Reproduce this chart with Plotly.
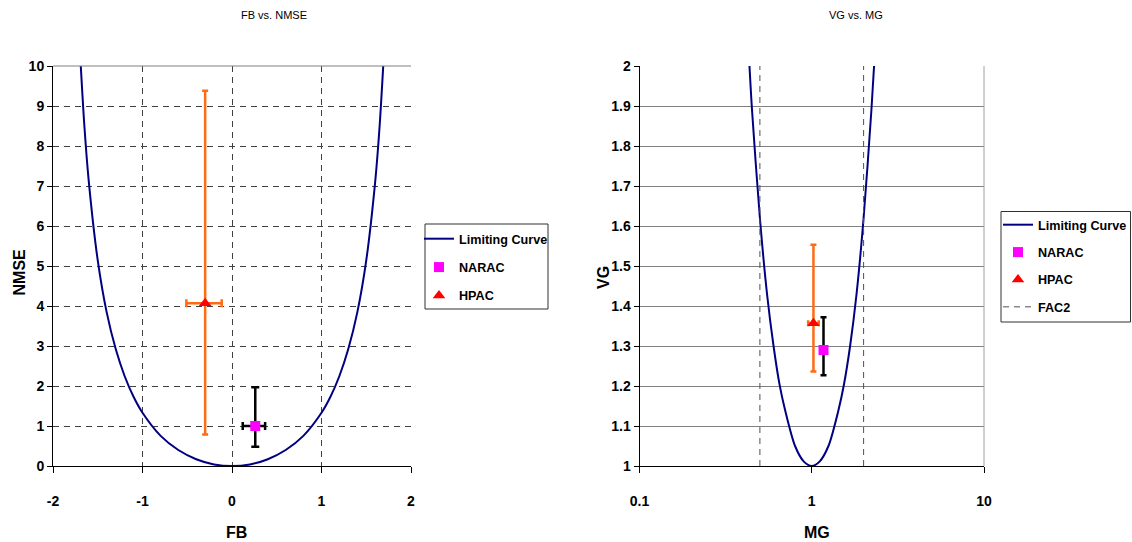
import plotly.graph_objects as go

# ---------------- data ----------------
# Left panel: FB vs NMSE
FB_CURVE = [-1.70, -1.65, -1.60, -1.50, -1.40, -1.30, -1.20, -1.10, -1.00, -0.80, -0.60, -0.40, -0.20, 0.00,
            0.20, 0.40, 0.60, 0.80, 1.00, 1.10, 1.20, 1.30, 1.40, 1.50, 1.60, 1.65, 1.70]
NMSE_CURVE = [10.41, 8.52, 7.11, 5.14, 3.84, 2.93, 2.25, 1.73, 1.33, 0.76, 0.40, 0.17, 0.04, 0.00,
              0.04, 0.17, 0.40, 0.76, 1.33, 1.73, 2.25, 2.93, 3.84, 5.14, 7.11, 8.52, 10.41]

NARAC_FB = [0.26]
NARAC_FB_MINUS = [0.14]
NARAC_FB_PLUS = [0.11]
NARAC_NMSE = [1.00]
NARAC_NMSE_MINUS = [0.52]
NARAC_NMSE_PLUS = [0.97]

HPAC_FB = [-0.30]
HPAC_FB_MINUS = [0.21]
HPAC_FB_PLUS = [0.185]
HPAC_NMSE = [4.07]
HPAC_NMSE_MINUS = [3.28]
HPAC_NMSE_PLUS = [5.31]

# Right panel: VG vs MG
MG_CURVE = [0.43, 0.45, 0.50, 0.55, 0.60, 0.65, 0.70, 0.80, 0.90, 1.00,
            1.11, 1.25, 1.43, 1.54, 1.67, 1.82, 2.00, 2.22, 2.33]
VG_CURVE = [2.04, 1.89, 1.62, 1.43, 1.30, 1.204, 1.14, 1.05, 1.011, 1.00,
            1.011, 1.05, 1.14, 1.205, 1.30, 1.43, 1.62, 1.89, 2.04]

NARAC_MG = [1.17]
NARAC_VG = [1.29]
NARAC_VG_MINUS = [0.063]
NARAC_VG_PLUS = [0.082]

HPAC_MG = [1.023]
HPAC_MG_MINUS = [0.07]
HPAC_MG_PLUS = [0.075]
HPAC_VG = [1.357]
HPAC_VG_MINUS = [0.121]
HPAC_VG_PLUS = [0.196]

FAC2_X = [0.5, 0.5, None, 2.0, 2.0]
FAC2_Y = [1.0, 2.0, None, 1.0, 2.0]

LEFT_YTICKS = [0, 1, 2, 3, 4, 5, 6, 7, 8, 9, 10]
LEFT_XTICKS = [-2, -1, 0, 1, 2]
LEFT_XTEXT = ["-2", "-1", "0", "1", "2"]
RIGHT_YTICKS = [1, 1.1, 1.2, 1.3, 1.4, 1.5, 1.6, 1.7, 1.8, 1.9, 2]
RIGHT_YTEXT = ["1", "1.1", "1.2", "1.3", "1.4", "1.5", "1.6", "1.7", "1.8", "1.9", "2"]
RIGHT_XTICKS = [0.1, 1, 10]
RIGHT_XTEXT = ["0.1", "1", "10"]

# ---------------- style ----------------
FONT = "Liberation Sans, Arial, sans-serif"
NAVY = "#000080"
MAGENTA = "#FF00FF"
RED = "#FF0000"
ORANGE = "#FF6A13"

W, H = 1132, 542
def px_x(p):
    return p / W
def px_y(p):
    return 1 - p / H

fig = go.Figure()

# Left panel traces
fig.add_trace(go.Scatter(x=FB_CURVE, y=NMSE_CURVE, mode="lines", name="Limiting Curve",
                         line=dict(color=NAVY, width=2, shape="spline", smoothing=0.8),
                         xaxis="x", yaxis="y", legend="legend", legendgroup="a1"))
fig.add_trace(go.Scatter(x=NARAC_FB, y=NARAC_NMSE, mode="markers", name="NARAC",
                         marker=dict(symbol="square", color=MAGENTA, size=10),
                         error_x=dict(type="data", symmetric=False, array=NARAC_FB_PLUS,
                                      arrayminus=NARAC_FB_MINUS, color="black", thickness=2.5, width=4),
                         error_y=dict(type="data", symmetric=False, array=NARAC_NMSE_PLUS,
                                      arrayminus=NARAC_NMSE_MINUS, color="black", thickness=2.5, width=4),
                         xaxis="x", yaxis="y", legend="legend", legendgroup="a2"))
fig.add_trace(go.Scatter(x=HPAC_FB, y=HPAC_NMSE, mode="markers", name="HPAC",
                         marker=dict(symbol="triangle-up", color=RED, size=11),
                         error_x=dict(type="data", symmetric=False, array=HPAC_FB_PLUS,
                                      arrayminus=HPAC_FB_MINUS, color=ORANGE, thickness=2.5, width=4),
                         error_y=dict(type="data", symmetric=False, array=HPAC_NMSE_PLUS,
                                      arrayminus=HPAC_NMSE_MINUS, color=ORANGE, thickness=2.5, width=3),
                         xaxis="x", yaxis="y", legend="legend", legendgroup="a3"))

# Right panel traces
fig.add_trace(go.Scatter(x=MG_CURVE, y=VG_CURVE, mode="lines", name="Limiting Curve",
                         line=dict(color=NAVY, width=2, shape="spline", smoothing=0.8),
                         xaxis="x2", yaxis="y2", legend="legend2", legendgroup="b1"))
fig.add_trace(go.Scatter(x=NARAC_MG, y=NARAC_VG, mode="markers", name="NARAC",
                         marker=dict(symbol="square", color=MAGENTA, size=10),
                         error_y=dict(type="data", symmetric=False, array=NARAC_VG_PLUS,
                                      arrayminus=NARAC_VG_MINUS, color="black", thickness=2.5, width=3),
                         xaxis="x2", yaxis="y2", legend="legend2", legendgroup="b2"))
fig.add_trace(go.Scatter(x=HPAC_MG, y=HPAC_VG, mode="markers", name="HPAC",
                         marker=dict(symbol="triangle-up", color=RED, size=11),
                         error_x=dict(type="data", symmetric=False, array=HPAC_MG_PLUS,
                                      arrayminus=HPAC_MG_MINUS, color=ORANGE, thickness=2.5, width=3),
                         error_y=dict(type="data", symmetric=False, array=HPAC_VG_PLUS,
                                      arrayminus=HPAC_VG_MINUS, color=ORANGE, thickness=2.5, width=3),
                         xaxis="x2", yaxis="y2", legend="legend2", legendgroup="b3"))
fig.add_trace(go.Scatter(x=FAC2_X, y=FAC2_Y, mode="lines", name="FAC2",
                         line=dict(color="#505050", width=1, dash="6px,5px"),
                         xaxis="x2", yaxis="y2", legend="legend2", legendgroup="b4"))

tickfont = dict(family=FONT, size=14, color="black", weight="bold")
legfont = dict(family=FONT, size=12.6, color="black", weight="bold")
YDOM = [px_y(466), px_y(66)]

fig.update_layout(
    width=W, height=H,
    margin=dict(l=0, r=0, t=0, b=0, autoexpand=False),
    paper_bgcolor="white", plot_bgcolor="white",
    font=dict(family=FONT, color="black"),
    xaxis=dict(domain=[px_x(53), px_x(411)], range=[-2, 2], tickvals=LEFT_XTICKS, ticktext=LEFT_XTEXT,
               showgrid=True, gridcolor="#404040", griddash="6px,5px", gridwidth=1,
               zeroline=False, showline=True, linecolor="black", linewidth=1,
               ticks="outside", ticklen=6, tickcolor="black", tickfont=tickfont,
               ticklabelstandoff=16, anchor="y", automargin=False),
    yaxis=dict(domain=YDOM, range=[0, 10], tickvals=LEFT_YTICKS,
               showgrid=True, gridcolor="#404040", griddash="6px,5px", gridwidth=1,
               zeroline=False, showline=True, linecolor="black", linewidth=1,
               ticks="outside", ticklen=5, tickcolor="black", tickfont=tickfont,
               ticklabelstandoff=0, anchor="x", automargin=False),
    xaxis2=dict(domain=[px_x(639.5), px_x(984)], type="log", range=[-1, 1],
                tickvals=RIGHT_XTICKS, ticktext=RIGHT_XTEXT,
                showgrid=False, zeroline=False, showline=True, linecolor="black", linewidth=1,
                ticks="outside", ticklen=6, tickcolor="black", tickfont=tickfont,
                ticklabelstandoff=16, anchor="y2", automargin=False),
    yaxis2=dict(domain=YDOM, range=[1, 2], tickvals=RIGHT_YTICKS, ticktext=RIGHT_YTEXT,
                showgrid=True, gridcolor="#808080", gridwidth=1,
                zeroline=False, showline=True, linecolor="black", linewidth=1,
                ticks="outside", ticklen=5, tickcolor="black", tickfont=tickfont,
                ticklabelstandoff=0, anchor="x2", automargin=False),
    legend=dict(x=px_x(419), y=px_y(224), xanchor="left", yanchor="top",
                bgcolor="rgba(0,0,0,0)", borderwidth=0, font=legfont,
                itemwidth=30, tracegroupgap=9),
    legend2=dict(x=px_x(998), y=px_y(210), xanchor="left", yanchor="top",
                 bgcolor="rgba(0,0,0,0)", borderwidth=0, font=legfont,
                 itemwidth=30, tracegroupgap=8),
    showlegend=True,
)

# legend boxes
fig.add_shape(type="rect", xref="paper", yref="paper", x0=px_x(425), x1=px_x(548), y0=px_y(309), y1=px_y(224),
              line=dict(color="#303030", width=1), fillcolor="rgba(0,0,0,0)", layer="above")
fig.add_shape(type="rect", xref="paper", yref="paper", x0=px_x(1001), x1=px_x(1130.5), y0=px_y(322), y1=px_y(211.5),
              line=dict(color="#303030", width=1), fillcolor="rgba(0,0,0,0)", layer="above")

# right border of right panel at MG = 10, top border of left panel
fig.add_shape(type="line", xref="x2 domain", yref="y2 domain", x0=1, x1=1, y0=0, y1=1,
              line=dict(color="#A0A0A0", width=1))
fig.add_shape(type="line", xref="x domain", yref="y domain", x0=0, x1=1, y0=1, y1=1,
              line=dict(color="#808080", width=1))

annos = [
    dict(text="FB vs. NMSE", x=px_x(274), y=px_y(15), size=11, weight="normal", angle=0),
    dict(text="VG vs. MG", x=px_x(856), y=px_y(15), size=11, weight="normal", angle=0),
    dict(text="FB", x=px_x(236), y=px_y(532), size=16, weight="bold", angle=0),
    dict(text="MG", x=px_x(817), y=px_y(532), size=16, weight="bold", angle=0),
    dict(text="NMSE", x=px_x(18.5), y=px_y(272), size=16, weight="bold", angle=-90),
    dict(text="VG", x=px_x(603), y=px_y(278), size=16, weight="bold", angle=-90),
]
for a in annos:
    fig.add_annotation(text=a["text"], x=a["x"], y=a["y"], xref="paper", yref="paper",
                       xanchor="center", yanchor="middle", showarrow=False, textangle=a["angle"],
                       font=dict(family=FONT, size=a["size"], color="black", weight=a["weight"]))

fig.write_html("out.html", config={"displayModeBar": False},
               post_script="document.body.style.margin='0';document.body.style.overflow='hidden';")
